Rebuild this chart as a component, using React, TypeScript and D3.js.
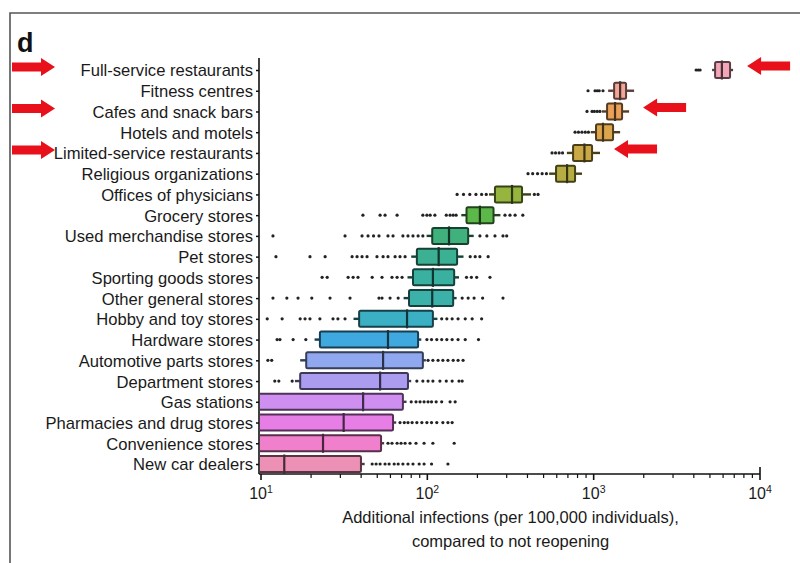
import { useEffect, useRef } from 'react';
import * as d3 from 'd3';

// categories top -> bottom
const categories = [
  'Full-service restaurants',
  'Fitness centres',
  'Cafes and snack bars',
  'Hotels and motels',
  'Limited-service restaurants',
  'Religious organizations',
  'Offices of physicians',
  'Grocery stores',
  'Used merchandise stores',
  'Pet stores',
  'Sporting goods stores',
  'Other general stores',
  'Hobby and toy stores',
  'Hardware stores',
  'Automotive parts stores',
  'Department stores',
  'Gas stations',
  'Pharmacies and drug stores',
  'Convenience stores',
  'New car dealers',
];

const q1 = [5370, 1327, 1204, 1033, 752, 594, 255, 172, 107, 86.5, 82, 77.6, 38.9, 22.6, 18.7, 17.2, 6, 5, 5, 4];
const medians = [5900, 1442, 1344, 1138, 880, 692, 323, 207, 135, 117, 108, 107, 75.5, 58, 54.2, 52, 41.1, 31.4, 23.6, 13.8];
const q3 = [6607, 1566, 1482, 1308, 978, 773, 371, 250, 176, 151, 145, 143, 108, 88, 94, 76.5, 71.3, 62.2, 52.7, 39.9];
const whiskLo = [5150, 1222, 1120, 960, 690, 540, 235, 160, 99, 80, 76, 72, 36, 21, 17.2, 16, 5, 5, 5, 4];
const whiskHi = [6890, 1750, 1633, 1442, 1092, 851, 420, 275, 190, 165, 155, 150, 115, 92, 98, 80, 75, 65, 55, 42];

const outliers: number[][] = [
  [4130, 4250, 4365],
  [925, 1019, 1050, 1080, 1138],
  [912, 978, 1010, 1050, 1090],
  [773, 810, 850, 890, 930],
  [562, 590, 620, 650],
  [403, 430, 460, 490, 520],
  [151, 165, 180, 196, 212, 226, 440, 463],
  [41, 52, 55.7, 65.8, 94, 99.4, 104, 111, 130, 137, 143, 149, 293, 314, 337, 375],
  [11.8, 32, 40.5, 44, 47.5, 51.2, 58, 62.2, 71.3, 76.5, 82, 88, 94, 207, 228, 255, 285, 300],
  [12.3, 19.7, 24.3, 35.3, 37.8, 40.5, 43.4, 49.8, 54.2, 58, 64, 68.5, 73.5, 181, 194, 207, 232],
  [23.3, 25, 33.4, 35.8, 38.3, 46.6, 53.4, 61.3, 65.8, 70.5, 172, 184, 198, 238],
  [11.8, 14.3, 16.7, 20.2, 26, 34.3, 51.2, 53.4, 59.7, 66.8, 162, 176, 191, 215, 285],
  [10.9, 13.4, 17.2, 18.4, 19.7, 22.6, 27.1, 29, 32, 122, 131, 141, 153, 169, 186, 212],
  [12.5, 13, 15.6, 18.6, 99.4, 106, 114, 122, 131, 141, 153, 169, 203],
  [11, 11.6, 101, 108, 116, 124, 133, 143, 153, 164],
  [12.1, 12.8, 15.4, 86.5, 94, 101, 108, 119, 130, 141, 155, 162],
  [80, 85.5, 90.4, 95.6, 101, 106, 113, 122, 137, 147],
  [68.5, 72.7, 76.5, 81, 86.5, 92.7, 99.4, 106, 114, 124, 133, 141],
  [58, 61.3, 65.8, 69.5, 73.5, 78.7, 85.5, 95.6, 108, 145],
  [46.6, 49.2, 52, 55.7, 58.9, 63.2, 66.8, 71.3, 76.5, 82, 89.3, 95.6, 106, 133],
];

const colors = [
  '#f2a6b8', '#f3a598', '#eba05a', '#dba54e', '#c9a845', '#b6ad42', '#95b53e',
  '#5db84a', '#40b07c', '#3bb092', '#3ab1a0', '#3bb1aa', '#3bb0c4', '#3fa8de',
  '#90a8f0', '#ab9cf0', '#cf8ff0', '#e67ee6', '#f080cc', '#ec90b6',
];

const arrowed = ['Full-service restaurants', 'Cafes and snack bars', 'Limited-service restaurants'];

const majorTicks = [10, 100, 1000, 10000];
const minorTicks = [20, 30, 40, 50, 60, 70, 80, 90, 200, 300, 400, 500, 600, 700, 800, 900,
  2000, 3000, 4000, 5000, 6000, 7000, 8000, 9000];

const FONT = '"Liberation Sans", Arial, Helvetica, sans-serif';

function arrowPath(tipX: number, cy: number, dir: number) {
  // dir = 1 points right, -1 points left
  const len = 43, head = 14, sh = 4.5, hh = 9;
  const tail = tipX - dir * len;
  const neck = tipX - dir * head;
  return `M${tail},${cy - sh}L${neck},${cy - sh}L${neck},${cy - hh}L${tipX},${cy}` +
    `L${neck},${cy + hh}L${neck},${cy + sh}L${tail},${cy + sh}Z`;
}

export default function App() {
  const svgRef = useRef<SVGSVGElement>(null);
  const width = 800;
  const height = 563;

  useEffect(() => {
    const svg = d3.select(svgRef.current);
    svg.selectAll('*').remove();

    const axisLeftX = 259;
    const axisY = 474;

    const x = d3.scaleLog().domain([10, 10000]).range([261, 760]);
    const y = d3.scalePoint<string>().domain(categories).range([70, 464]);
    const boxH = 16;

    svg.append('rect').attr('width', width).attr('height', height).attr('fill', '#fff');

    // frame
    svg.append('path')
      .attr('d', `M10,${height + 5}L10,13L${width + 5},13`)
      .attr('fill', 'none')
      .attr('stroke', '#555')
      .attr('stroke-width', 1.6);

    svg.append('text')
      .attr('x', 17)
      .attr('y', 52)
      .style('font-family', FONT)
      .style('font-size', '27px')
      .style('font-weight', 'bold')
      .style('fill', '#111')
      .text('d');

    const defs = svg.append('defs');
    defs.append('clipPath').attr('id', 'plot-clip')
      .append('rect')
      .attr('x', axisLeftX + 1)
      .attr('y', 40)
      .attr('width', 520)
      .attr('height', 440);

    const rows = categories.map((c, i) => ({
      cat: c, q1: q1[i], med: medians[i], q3: q3[i],
      lo: whiskLo[i], hi: whiskHi[i], out: outliers[i], color: colors[i],
    }));

    const plot = svg.append('g').attr('clip-path', 'url(#plot-clip)');

    // outlier points
    rows.forEach(r => {
      plot.append('g')
        .selectAll('circle')
        .data(r.out)
        .enter().append('circle')
        .attr('cx', d => x(d))
        .attr('cy', y(r.cat)!)
        .attr('r', 1.6)
        .attr('fill', '#222');
    });

    const edge = (c: string) => d3.color(c)!.darker(2.8).formatHex();

    const g = plot.selectAll('.box')
      .data(rows)
      .enter().append('g')
      .attr('class', 'box')
      .attr('transform', d => `translate(0,${y(d.cat)})`);

    // whiskers
    g.append('line')
      .attr('x1', d => x(d.lo)).attr('x2', d => x(d.q1))
      .attr('stroke', d => edge(d.color))
      .attr('stroke-width', 2.4);
    g.append('line')
      .attr('x1', d => x(d.q3)).attr('x2', d => x(d.hi))
      .attr('stroke', d => edge(d.color))
      .attr('stroke-width', 2.4);

    g.append('rect')
      .attr('x', d => x(d.q1))
      .attr('y', -boxH / 2)
      .attr('width', d => x(d.q3) - x(d.q1))
      .attr('height', boxH)
      .attr('rx', 1.5)
      .attr('fill', d => d.color)
      .attr('stroke', d => edge(d.color))
      .attr('stroke-width', 2);

    g.append('line')
      .attr('x1', d => x(d.med)).attr('x2', d => x(d.med))
      .attr('y1', -boxH / 2 - 1.5).attr('y2', boxH / 2 + 1.5)
      .attr('stroke', d => d3.color(d.color)!.darker(3.4).formatHex())
      .attr('stroke-width', 2.2);

    // y axis
    const yAxis = svg.append('g')
      .attr('transform', `translate(${axisLeftX},0)`)
      .call(d3.axisLeft(y).tickSize(3).tickPadding(3));
    yAxis.select('.domain').remove();
    yAxis.selectAll('.tick line').attr('stroke', '#111').attr('stroke-width', 1.5);
    yAxis.selectAll('text')
      .attr('dy', '0.36em')
      .style('font-family', FONT)
      .style('font-size', '16.6px')
      .style('fill', '#1a1a1a');
    svg.append('line')
      .attr('x1', axisLeftX).attr('x2', axisLeftX)
      .attr('y1', 58).attr('y2', axisY)
      .attr('stroke', '#111').attr('stroke-width', 1.6);

    // x axis
    const xAxisG = svg.append('g').attr('transform', `translate(0,${axisY})`);
    xAxisG.append('line')
      .attr('x1', axisLeftX).attr('x2', x(10000))
      .attr('stroke', '#111').attr('stroke-width', 1.6);
    xAxisG.selectAll('.minor')
      .data(minorTicks)
      .enter().append('line')
      .attr('class', 'minor')
      .attr('x1', d => x(d)).attr('x2', d => x(d))
      .attr('y1', 0).attr('y2', 4)
      .attr('stroke', '#111').attr('stroke-width', 1.2);
    xAxisG.selectAll('.major')
      .data(majorTicks)
      .enter().append('line')
      .attr('class', 'major')
      .attr('x1', d => x(d)).attr('x2', d => x(d))
      .attr('y1', d => (d === 10000 ? -7 : 0)).attr('y2', 6)
      .attr('stroke', '#111').attr('stroke-width', 1.6);

    const lbl = xAxisG.selectAll('.xl')
      .data(majorTicks)
      .enter().append('text')
      .attr('class', 'xl')
      .attr('x', d => x(d))
      .attr('y', 25)
      .attr('text-anchor', 'middle')
      .style('font-family', FONT)
      .style('font-size', '16px')
      .style('fill', '#1a1a1a');
    lbl.append('tspan').text('10');
    lbl.append('tspan')
      .attr('dy', -6)
      .style('font-size', '10.5px')
      .text(d => String(Math.round(Math.log10(d))));

    const midX = (x(10) + x(10000)) / 2;
    svg.append('text')
      .attr('x', midX).attr('y', 523)
      .attr('text-anchor', 'middle')
      .style('font-family', FONT)
      .style('font-size', '16.5px')
      .style('fill', '#1a1a1a')
      .text('Additional infections (per 100,000 individuals),');
    svg.append('text')
      .attr('x', midX).attr('y', 547)
      .attr('text-anchor', 'middle')
      .style('font-family', FONT)
      .style('font-size', '16.5px')
      .style('fill', '#1a1a1a')
      .text('compared to not reopening');

    // red arrows
    const arrowRows = rows.filter(r => arrowed.includes(r.cat));
    svg.selectAll('.arrow-left')
      .data(arrowRows)
      .enter().append('path')
      .attr('class', 'arrow-left')
      .attr('d', d => arrowPath(55, y(d.cat)! - 3, 1))
      .attr('fill', '#e8101a');
    svg.selectAll('.arrow-right')
      .data(arrowRows)
      .enter().append('path')
      .attr('class', 'arrow-right')
      .attr('d', d => arrowPath(x(d.hi) + 14, y(d.cat)! - 4, -1))
      .attr('fill', '#e8101a');
  }, []);

  return (
    <svg
      ref={svgRef}
      width={width}
      height={height}
      style={{ position: 'absolute', left: 0, top: 0, display: 'block' }}
    />
  );
}
